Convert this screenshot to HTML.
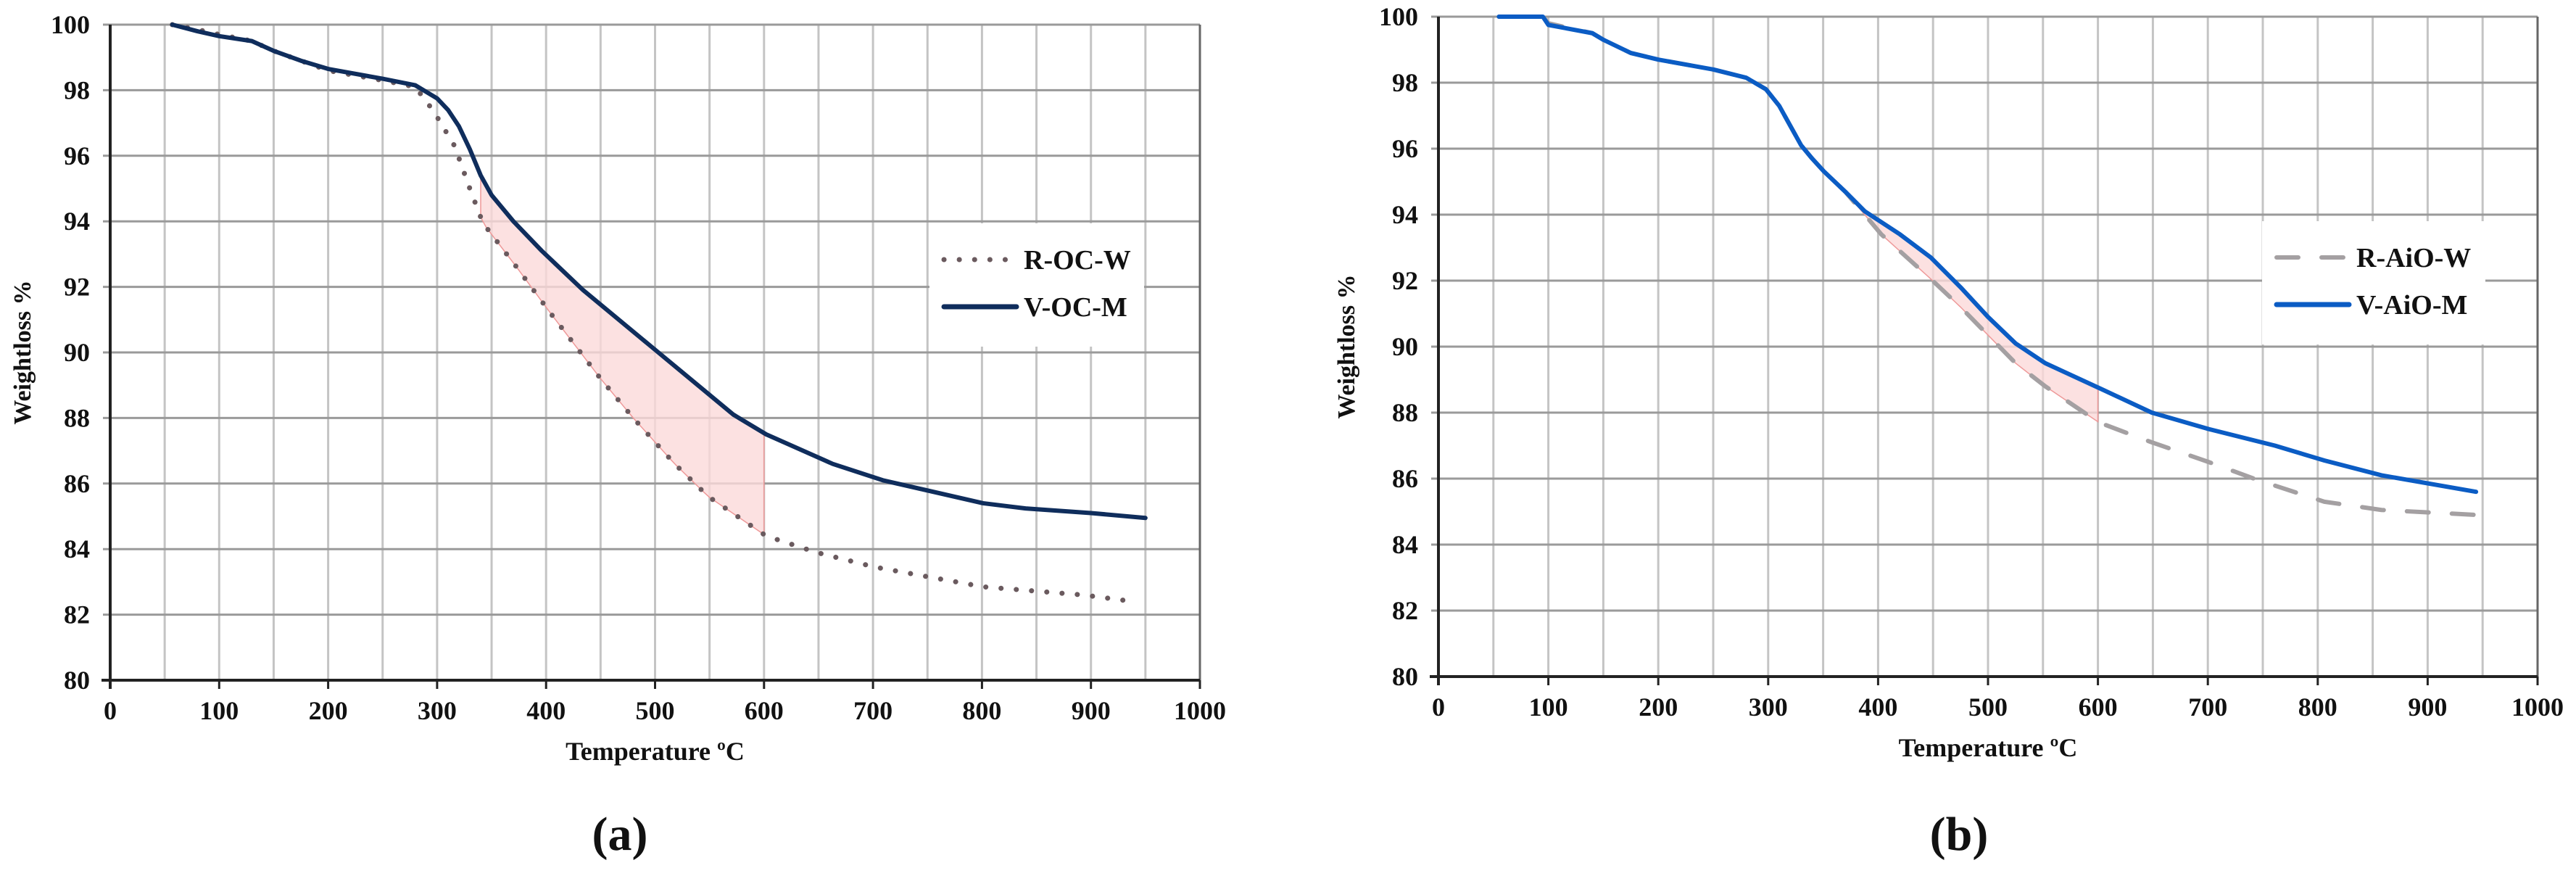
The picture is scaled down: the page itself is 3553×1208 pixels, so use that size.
<!DOCTYPE html>
<html><head><meta charset="utf-8"><style>
html,body{margin:0;padding:0;background:#fff;}
svg{display:block;}
text{font-family:"Liberation Serif",serif;font-weight:bold;fill:#111;}
</style></head><body>
<svg id="svg" width="3553" height="1208" viewBox="0 0 3553 1208" xmlns="http://www.w3.org/2000/svg"></svg>
<script>
// ---- Chart (a) data ----
const aVx = [57,80,100,130,150,175,200,250,280,300,310,320,330,340,350,370,396,434,503,572,602,663,709,801,840,900,950];
const aVy = [100,99.8,99.65,99.5,99.2,98.9,98.65,98.35,98.15,97.75,97.4,96.9,96.2,95.4,94.8,94.0,93.1,91.9,90.0,88.1,87.5,86.6,86.1,85.4,85.24,85.1,84.95];
const aRx = [57,80,100,130,150,175,200,250,280,297,316,330,342,373,404,450,480,518,549,602,648,702,801,893,939];
const aRy = [100,99.85,99.7,99.5,99.2,98.9,98.6,98.3,98.1,97.35,96.3,95.0,93.95,92.6,91.2,89.2,88.0,86.6,85.6,84.4,83.9,83.45,82.85,82.6,82.4];
const aFill = [340,600];
// ---- Chart (b) data ----
const bVx = [55,95,100,140,150,175,200,250,280,298,310,320,330,340,351,370,388,420,448,475,500,525,552,604,649,701,761,806,858,944];
const bVy = [100,100,99.75,99.5,99.3,98.9,98.7,98.4,98.15,97.8,97.3,96.7,96.1,95.7,95.3,94.7,94.1,93.4,92.7,91.8,90.9,90.1,89.5,88.7,88.0,87.5,87.0,86.55,86.1,85.6];
const bRx = [55,95,100,140,150,175,200,250,280,298,310,320,330,340,351,370,403,448,475,500,525,552,601,649,701,746,806,858,944];
const bRy = [100,100,99.8,99.5,99.3,98.9,98.7,98.4,98.15,97.8,97.3,96.7,96.1,95.7,95.3,94.7,93.4,92.05,91.2,90.35,89.5,88.8,87.7,87.1,86.5,85.95,85.3,85.05,84.9];
const bFill = [370,600];
const xTicks = [0,100,200,300,400,500,600,700,800,900,1000];
const yTicks = [80,82,84,86,88,90,92,94,96,98,100];

const NS = "http://www.w3.org/2000/svg";
const svg = document.getElementById('svg');
function el(tag, attrs, parent, txt){
  const e = document.createElementNS(NS, tag);
  for (const k in attrs) e.setAttribute(k, attrs[k]);
  if (txt !== undefined) e.textContent = txt;
  (parent||svg).appendChild(e);
  return e;
}
function interp(xs, ys, x){
  for (let i=0;i<xs.length-1;i++){ if (x>=xs[i] && x<=xs[i+1]) return ys[i]+(ys[i+1]-ys[i])*(x-xs[i])/(xs[i+1]-xs[i]); }
  return ys[ys.length-1];
}
function chart(cfg){
  const g = el('g', {});
  
  
  const X = v => cfg.x0 + (v/1000)*(cfg.x1-cfg.x0);
  const Y = v => cfg.y1 - ((v-80)/20)*(cfg.y1-cfg.y0);
  for (let v=50; v<1000; v+=50){
    const l = el('line', {x1:X(v),x2:X(v),y1:cfg.y0,y2:cfg.y1,stroke:'#c4c4c4','stroke-width':3}, g);
    
    
  }
  yTicks.forEach(v=>{
    if (v===80) return;
    const l = el('line', {x1:X(0)-10,x2:X(1000),y1:Y(v),y2:Y(v),stroke:'#9a9a9a','stroke-width':3}, g);
    
    
  });
  el('line', {x1:X(1000),x2:X(1000),y1:cfg.y0,y2:cfg.y1+12,stroke:'#666','stroke-width':3}, g);
  let pts = [];
  for (let v=cfg.fill[0]; v<=cfg.fill[1]; v+=5) pts.push(X(v)+','+Y(interp(cfg.vx,cfg.vy,v)));
  for (let v=cfg.fill[1]; v>=cfg.fill[0]; v-=5) pts.push(X(v)+','+Y(interp(cfg.rx,cfg.ry,v)));
  const f = el('polygon', {points:pts.join(' '),fill:'#fbdada','fill-opacity':0.8,stroke:'#e99','stroke-width':1.5}, g);
  
  
  el('line', {x1:X(0),x2:X(0),y1:cfg.y0,y2:cfg.y1+12,stroke:'#222','stroke-width':4}, g);
  el('line', {x1:X(0)-12,x2:X(1000),y1:cfg.y1,y2:cfg.y1,stroke:'#222','stroke-width':4}, g);
  xTicks.forEach(v=>{
    el('line', {x1:X(v),x2:X(v),y1:cfg.y1,y2:cfg.y1+12,stroke:'#222','stroke-width':3}, g);
    const t = el('text', {x:X(v),y:cfg.y1+54,'text-anchor':'middle','font-size':36}, g, v);
    
    
  });
  yTicks.forEach(v=>{
    const t = el('text', {x:X(0)-28,y:Y(v)+12,'text-anchor':'end','font-size':36}, g, v);
    
    
  });
  const rp = cfg.rx.map((v,i)=>X(v)+','+Y(cfg.ry[i])).join(' ');
  const r = el('polyline', {points:rp,fill:'none',stroke:cfg.rColor,'stroke-width':cfg.rW,'stroke-dasharray':cfg.rDash,'stroke-linecap':'round','stroke-linejoin':'round'}, g);
  
  
  const vp = cfg.vx.map((v,i)=>X(v)+','+Y(cfg.vy[i])).join(' ');
  const s = el('polyline', {points:vp,fill:'none',stroke:cfg.vColor,'stroke-width':6,'stroke-linecap':'round','stroke-linejoin':'round'}, g);
  
  
  const xt = el('text', {x:(X(0)+X(1000))/2,y:cfg.y1+110,'text-anchor':'middle','font-size':36}, g, 'Temperature ºC');
  
  
  const yt = el('text', {x:0,y:0,'text-anchor':'middle','font-size':34,transform:`translate(${cfg.ytx},${(cfg.y0+cfg.y1)/2}) rotate(-90)`}, g, 'Weightloss %');
  
  
  const lg = el('g', {}, g);
  
  
  el('rect', {x:cfg.lx, y:cfg.ly, width:cfg.lw, height:170, fill:'#fff'}, lg);
  const e1 = el('line', {x1:cfg.lx+20,x2:cfg.lx+120,y1:cfg.ly+50,y2:cfg.ly+50,stroke:cfg.rColor,'stroke-width':cfg.rW,'stroke-dasharray':cfg.rDash,'stroke-linecap':'round'}, lg);
  
  
  const t1 = el('text', {x:cfg.lx+130,y:cfg.ly+63,'font-size':38}, lg, cfg.rName);
  
  
  el('line', {x1:cfg.lx+20,x2:cfg.lx+120,y1:cfg.ly+115,y2:cfg.ly+115,stroke:cfg.vColor,'stroke-width':7,'stroke-linecap':'round'}, lg);
  const t2 = el('text', {x:cfg.lx+130,y:cfg.ly+128,'font-size':38}, lg, cfg.vName);
  
  
  const cap = el('text', {x:cfg.capx,y:1172,'text-anchor':'middle','font-size':66,'font-weight':'normal'}, g);
  
  
  cap.innerHTML = '(<tspan font-weight="bold">'+cfg.cap+'</tspan>)';
}
chart({name:'chart-a',x0:152,x1:1655,y0:34,y1:938,vx:aVx,vy:aVy,rx:aRx,ry:aRy,fill:aFill,
  rColor:'#6a5a5e',rW:7,rDash:'0.1 21',vColor:'#0f2d5c',rName:'R-OC-W',vName:'V-OC-M',
  ytx:42,lx:1282,ly:308,lw:296,capx:855,cap:'a'});
chart({name:'chart-b',x0:1984,x1:3500,y0:23,y1:933,vx:bVx,vy:bVy,rx:bRx,ry:bRy,fill:bFill,
  rColor:'#a4a0a2',rW:6,rDash:'30 32',vColor:'#0b5cc4',rName:'R-AiO-W',vName:'V-AiO-M',
  ytx:1868,lx:3120,ly:305,lw:308,capx:2702,cap:'b'});
</script>
</body></html>
